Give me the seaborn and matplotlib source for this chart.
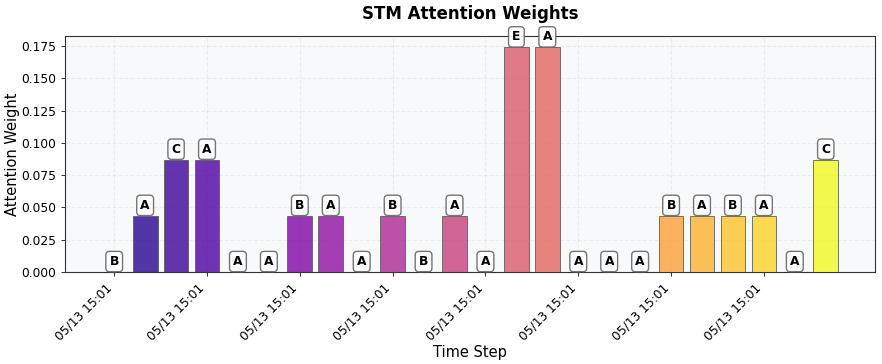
import matplotlib
matplotlib.use("Agg")
import matplotlib.pyplot as plt
import seaborn as sns
import numpy as np
import pandas as pd

steps = list(range(24))
timestamps = ["05/13 15:01"] * 24
weights = [0.0, 0.0435, 0.087, 0.087, 0.0, 0.0, 0.0435, 0.0435, 0.0, 0.0435,
           0.0, 0.0435, 0.0, 0.174, 0.174, 0.0, 0.0, 0.0, 0.0435, 0.0435,
           0.0435, 0.0435, 0.0, 0.087]
tags = ["B", "A", "C", "A", "A", "A", "B", "A", "A", "B", "B", "A",
        "A", "E", "A", "A", "A", "A", "B", "A", "B", "A", "A", "C"]

df = pd.DataFrame({"step": steps, "weight": weights, "tag": tags})

sns.set_style("white")
plt.rcParams['font.family'] = ['DejaVu Sans']
plt.rcParams.update({"text.color": "black", "axes.labelcolor": "black",
                     "xtick.color": "black", "ytick.color": "black"})

fig = plt.figure(figsize=(8.82, 3.64), dpi=100)
ax = fig.add_axes([0.0737, 0.253, 0.9183, 0.648])
ax.set_facecolor("#f8f9fa")

colors = plt.cm.plasma(np.linspace(0, 1, len(steps)))
sns.barplot(data=df, x="step", y="weight", hue="step", palette=list(colors),
            legend=False, native_scale=True, saturation=1, alpha=0.8,
            edgecolor="#555555", linewidth=0.7, width=0.8, ax=ax, zorder=3)

for x, w, t in zip(steps, weights, tags):
    ax.text(x, w + 0.003, t, ha="center", va="bottom", fontsize=8.8,
            fontweight="bold", zorder=5,
            bbox=dict(boxstyle="round,pad=0.3", facecolor="white",
                      edgecolor="#666666", alpha=0.9))

ax.set_xlim(-1.59, 24.59)
ax.set_ylim(0, max(weights) * 1.05)
tick_pos = steps[::3]
ax.set_xticks(tick_pos)
ax.set_xticklabels([timestamps[i] for i in tick_pos], rotation=45, ha="right",
                   fontsize=8.8)
ax.tick_params(axis="y", labelsize=8.8)
ax.tick_params(axis="both", which="both", length=3, width=0.7, color="#333333",
               bottom=True, left=True)
ax.grid(True, linestyle="--", alpha=0.3, zorder=0)
ax.set_axisbelow(True)
for s in ax.spines.values():
    s.set_color("#333333")
    s.set_linewidth(0.8)

ax.set_title("STM Attention Weights", fontsize=12, fontweight="bold", pad=12)
ax.set_xlabel("Time Step", fontsize=10.5, labelpad=1.5)
ax.set_ylabel("Attention Weight", fontsize=10.5, labelpad=1)

fig.savefig("out.png", dpi=100)
